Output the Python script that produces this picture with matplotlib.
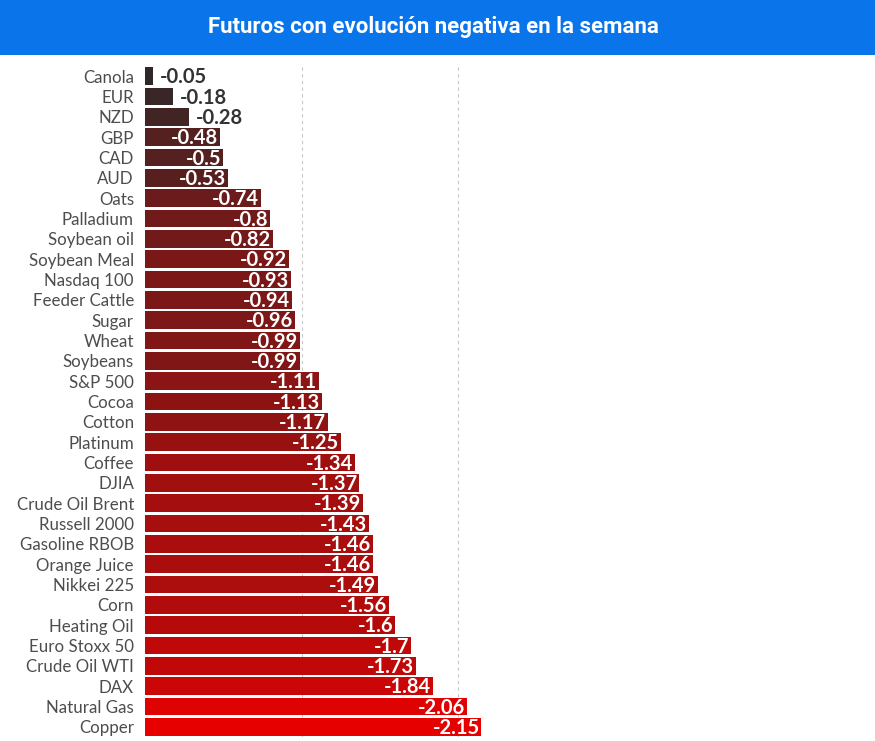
import matplotlib
matplotlib.use("Agg")
import matplotlib.pyplot as plt
import numpy as np
from matplotlib.colors import LinearSegmentedColormap

names = ["Canola", "EUR", "NZD", "GBP", "CAD", "AUD", "Oats", "Palladium",
         "Soybean oil", "Soybean Meal", "Nasdaq 100", "Feeder Cattle", "Sugar",
         "Wheat", "Soybeans", "S&P 500", "Cocoa", "Cotton", "Platinum", "Coffee",
         "DJIA", "Crude Oil Brent", "Russell 2000", "Gasoline RBOB", "Orange Juice",
         "Nikkei 225", "Corn", "Heating Oil", "Euro Stoxx 50", "Crude Oil WTI",
         "DAX", "Natural Gas", "Copper"]
values = [-0.05, -0.18, -0.28, -0.48, -0.5, -0.53, -0.74, -0.8, -0.82, -0.92,
          -0.93, -0.94, -0.96, -0.99, -0.99, -1.11, -1.13, -1.17, -1.25, -1.34,
          -1.37, -1.39, -1.43, -1.46, -1.46, -1.49, -1.56, -1.6, -1.7, -1.73,
          -1.84, -2.06, -2.15]
title = "Futuros con evolución negativa en la semana"

W, H = 875, 741
fig = plt.figure(figsize=(W / 100, H / 100), dpi=100)

# blue title band
band = fig.add_axes([0, 1 - 55 / H, 1, 55 / H])
band.set_facecolor("#0a74ea")
band.set_xticks([])
band.set_yticks([])
for s in band.spines.values():
    s.set_visible(False)
band.text(0.495, 0.5, title, color="white", fontsize=16, fontweight="bold",
          family="Roboto", ha="center", va="center", transform=band.transAxes)

# bar area
left, right = 145, 875
top, bottom = 66, 737
ax = fig.add_axes([left / W, 1 - bottom / H, (right - left) / W, (bottom - top) / H])
scale = 156.5
ax.set_xlim(0, (right - left) / scale)
n = len(values)
ax.set_ylim(n - 0.5, -0.5)

mags = np.abs(values)
cmap = LinearSegmentedColormap.from_list("r", ["#2a2929", "#e60000"])
colors = cmap(mags / mags.max())

y = np.arange(n)
for x in [1, 2]:
    ax.axvline(x, color="#c8c8c8", lw=0.8, ls=(0, (3, 3)), zorder=0)
ax.barh(y, mags, height=0.88, color=colors, zorder=2)

for yi, m, v in zip(y, mags, values):
    lab = f"{v:g}"
    if m >= 0.4:
        ax.text(m - 0.012, yi + 0.05, lab, ha="right", va="center", color="white",
                fontsize=14.5, fontweight="bold", family="Lato", zorder=3)
    else:
        ax.text(m + 0.045, yi + 0.05, lab, ha="left", va="center", color="#333333",
                fontsize=14.5, fontweight="bold", family="Lato", zorder=3)

ax.set_yticks(y)
ax.set_yticklabels(names, family="Lato", fontsize=12.2, color="#4d4d4d")
ax.tick_params(axis="y", length=0, pad=8)
ax.set_xticks([])
for s in ax.spines.values():
    s.set_visible(False)

fig.savefig("out.png", dpi=100)
